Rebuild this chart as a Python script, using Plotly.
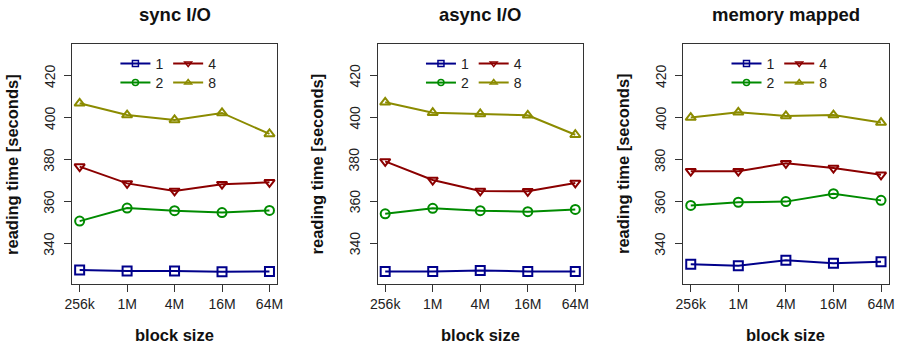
import plotly.graph_objects as go

block_sizes = ["256k", "1M", "4M", "16M", "64M"]
panel_titles = ["sync I/O", "async I/O", "memory mapped"]
thread_counts = ["1", "2", "4", "8"]
y_ticks = [340, 360, 380, 400, 420]

# reading time [seconds] per panel and thread count
sync_1 = [327.3, 326.8, 326.8, 326.5, 326.6]
sync_2 = [350.6, 356.8, 355.6, 354.7, 355.7]
sync_4 = [376.6, 368.6, 365.0, 368.2, 369.1]
sync_8 = [406.8, 401.2, 398.9, 402.2, 392.2]

async_1 = [326.6, 326.6, 327.0, 326.6, 326.6]
async_2 = [354.1, 356.7, 355.6, 355.1, 356.2]
async_4 = [379.1, 370.2, 365.0, 364.8, 368.8]
async_8 = [407.3, 402.3, 401.7, 401.1, 391.8]

mmap_1 = [330.0, 329.3, 331.9, 330.5, 331.2]
mmap_2 = [358.1, 359.6, 359.9, 363.7, 360.5]
mmap_4 = [374.4, 374.4, 378.2, 375.9, 372.7]
mmap_8 = [400.0, 402.5, 400.8, 401.2, 397.6]

panel_data = [
    [sync_1, sync_2, sync_4, sync_8],
    [async_1, async_2, async_4, async_8],
    [mmap_1, mmap_2, mmap_4, mmap_8],
]

colors = ["#00008B", "#008B00", "#8B0000", "#8B8B00"]
symbols = ["square-open", "circle-open", "triangle-down-open", "triangle-up-open"]
legend_col = [0, 0, 1, 1]  # legend grid: column 1 -> (1, 2), column 2 -> (4, 8)
legend_row = [0, 1, 0, 1]

W, H = 904, 346
FONT = "Liberation Sans, Arial, sans-serif"
box_left = [66, 376, 686]
box_right = [274, 584.3, 894.5]
box_top, box_bottom = 44, 284
leg_col_off = [44, 97.5]
leg_row_top = [48.0, 67.0]

fig = go.Figure()
layout = dict(
    width=W, height=H, margin=dict(l=0, r=0, t=0, b=0),
    paper_bgcolor="white", plot_bgcolor="white",
    font=dict(family=FONT, size=14, color="#222"),
    annotations=[],
)
for p in range(3):
    ax = "" if p == 0 else str(p + 1)
    for i in range(4):
        fig.add_trace(go.Scatter(
            x=block_sizes, y=panel_data[p][i], mode="lines+markers",
            xaxis="x" + ax, yaxis="y" + ax, showlegend=False,
            line=dict(color=colors[i], width=2),
            marker=dict(symbol=symbols[i], size=9, color=colors[i],
                        line=dict(width=2, color=colors[i])),
        ))
    for i in range(4):
        leg_idx = 4 * p + i + 1
        leg = "legend" if leg_idx == 1 else "legend" + str(leg_idx)
        fig.add_trace(go.Scatter(
            x=[None], y=[None], mode="lines+markers", name=thread_counts[i],
            xaxis="x" + ax, yaxis="y" + ax, legend=leg,
            line=dict(color=colors[i], width=2),
            marker=dict(symbol=symbols[i], size=6, color=colors[i],
                        line=dict(width=1.5, color=colors[i])),
        ))
        layout[leg] = dict(
            x=(box_left[p] + leg_col_off[legend_col[i]]) / W,
            y=1 - leg_row_top[legend_row[i]] / H, xref="paper", yref="paper",
            xanchor="left", yanchor="top", orientation="v",
            bgcolor="rgba(0,0,0,0)", font=dict(size=14, color="#222"),
            itemclick=False, itemdoubleclick=False,
        )

for p in range(3):
    ax = "" if p == 0 else str(p + 1)
    layout["xaxis" + ax] = dict(
        domain=[box_left[p] / W, box_right[p] / W], anchor="y" + ax,
        type="category", range=[-0.16, 4.16],
        showline=True, mirror=True, linecolor="#333", linewidth=1,
        ticks="outside", ticklen=7, tickcolor="#333",
        showgrid=False, zeroline=False,
        tickfont=dict(size=14, color="#222"),
    )
    layout["yaxis" + ax] = dict(
        domain=[1 - box_bottom / H, 1 - box_top / H], anchor="x" + ax,
        range=[320.6, 435.1], tickvals=y_ticks,
        showline=True, mirror=True, linecolor="#333", linewidth=1,
        ticks="outside", ticklen=7, tickcolor="#333",
        showgrid=False, zeroline=False, showticklabels=False,
    )
    # vertical (rotated) y tick labels, placed on the y axis scale
    for t in y_ticks:
        layout["annotations"].append(dict(
            text=str(t), x=(box_left[p] - 23) / W, y=t,
            xref="paper", yref="y" + ax, showarrow=False, textangle=-90,
            font=dict(size=14, color="#222"), xanchor="center", yanchor="middle",
        ))
    cx = (box_left[p] + box_right[p]) / 2
    layout["annotations"] += [
        dict(text="<b>" + panel_titles[p] + "</b>", x=cx / W, y=1 - 15 / H,
             xref="paper", yref="paper", showarrow=False,
             font=dict(size=18.5, color="#111"), xanchor="center", yanchor="middle"),
        dict(text="<b>block size</b>", x=cx / W, y=1 - 335 / H,
             xref="paper", yref="paper", showarrow=False,
             font=dict(size=16.5, color="#111"), xanchor="center", yanchor="middle"),
        dict(text="<b>reading time [seconds]</b>", x=(box_left[p] - 61) / W,
             y=1 - ((box_top + box_bottom) / 2) / H,
             xref="paper", yref="paper", showarrow=False, textangle=-90,
             font=dict(size=16.5, color="#111"), xanchor="center", yanchor="middle"),
    ]

fig.update_layout(**layout)
fig.write_html("out.html", config={"displayModeBar": False},
               post_script="document.body.style.margin='0';")
